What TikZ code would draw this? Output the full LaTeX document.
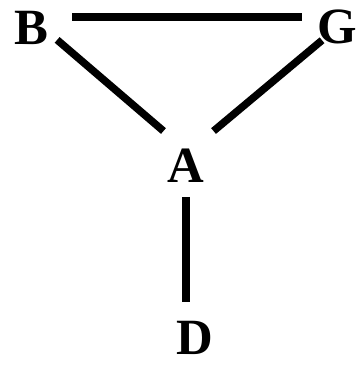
\documentclass[tikz,border=0pt]{standalone}
\usepackage{fontspec}
\setmainfont{Liberation Serif}
\usetikzlibrary{calc}
\definecolor{GraphInk}{HTML}{000000}
\tikzset{
  every node/.style={font=\bfseries\fontsize{51}{51}\selectfont, text=GraphInk, inner sep=0pt},
  link/.style={draw=GraphInk, line width=7.5bp},
}
\begin{document}
\begin{tikzpicture}[x=1bp,y=1bp]
  \useasboundingbox (0,0) rectangle (363,365);
  % Letters
  \node (B) at (31,337) {B};
  \node (G) at (337,338) {G};
  \node (A) at (186,199) {A};
  \node (D) at (195,27) {D};
  % Triangle
  \draw[link] ([shift={(24,11)}]B.east) -- ([shift={(-15,10)}]G.west);
  \draw[link] ([shift={(9,5)}]B.south east) -- ([shift={(-4,18)}]A.north west);
  \draw[link] ([shift={(5,4)}]G.south west) -- ([shift={(9,18)}]A.north east);
  % Stem
  \draw[link] ([yshift=-14]A.south) -- ([shift={(-9,19)}]D.north);
\end{tikzpicture}
\end{document}
